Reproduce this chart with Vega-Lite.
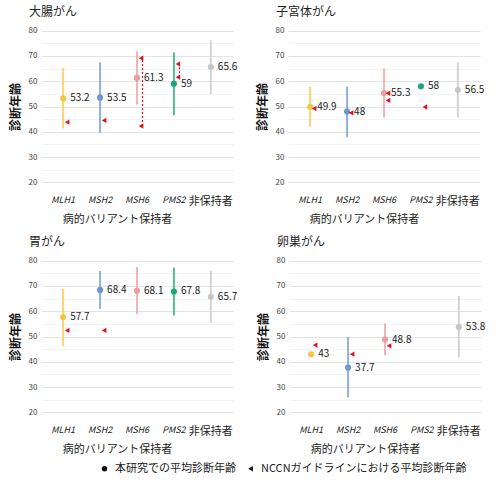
{
  "$schema": "https://vega.github.io/schema/vega-lite/v6.json",
  "background": "white",
  "padding": {"top": 6, "left": 9, "right": 2, "bottom": 2},
  "datasets": {
    "stats": [
      {"cancer": "大腸がん", "gene": "MLH1", "mean": 53.2, "lo": 41.3, "hi": 65.3},
      {"cancer": "大腸がん", "gene": "MSH2", "mean": 53.5, "lo": 39.5, "hi": 67.4},
      {"cancer": "大腸がん", "gene": "MSH6", "mean": 61.3, "lo": 50.8, "hi": 71.8},
      {"cancer": "大腸がん", "gene": "PMS2", "mean": 59, "lo": 46.6, "hi": 71.4},
      {"cancer": "大腸がん", "gene": "非保持者", "mean": 65.6, "lo": 55, "hi": 76.2},
      {"cancer": "子宮体がん", "gene": "MLH1", "mean": 49.9, "lo": 42, "hi": 57.8},
      {"cancer": "子宮体がん", "gene": "MSH2", "mean": 48, "lo": 37.9, "hi": 57.9},
      {"cancer": "子宮体がん", "gene": "MSH6", "mean": 55.3, "lo": 45.7, "hi": 65},
      {"cancer": "子宮体がん", "gene": "PMS2", "mean": 58, "lo": null, "hi": null},
      {"cancer": "子宮体がん", "gene": "非保持者", "mean": 56.5, "lo": 45.6, "hi": 67.5},
      {"cancer": "胃がん", "gene": "MLH1", "mean": 57.7, "lo": 46.1, "hi": 68.8},
      {"cancer": "胃がん", "gene": "MSH2", "mean": 68.4, "lo": 60.9, "hi": 75.9},
      {"cancer": "胃がん", "gene": "MSH6", "mean": 68.1, "lo": 58.8, "hi": 77.5},
      {"cancer": "胃がん", "gene": "PMS2", "mean": 67.8, "lo": 58.3, "hi": 77.2},
      {"cancer": "胃がん", "gene": "非保持者", "mean": 65.7, "lo": 55.4, "hi": 76.1},
      {"cancer": "卵巣がん", "gene": "MLH1", "mean": 43, "lo": null, "hi": null},
      {"cancer": "卵巣がん", "gene": "MSH2", "mean": 37.7, "lo": 25.9, "hi": 49.8},
      {"cancer": "卵巣がん", "gene": "MSH6", "mean": 48.8, "lo": 42.7, "hi": 55.1},
      {"cancer": "卵巣がん", "gene": "非保持者", "mean": 53.8, "lo": 41.7, "hi": 66.1}
    ],
    "nccn": [
      {"cancer": "大腸がん", "gene": "MLH1", "age": 43.8},
      {"cancer": "大腸がん", "gene": "MSH2", "age": 44.5},
      {"cancer": "大腸がん", "gene": "MSH6", "age": 42.3},
      {"cancer": "大腸がん", "gene": "MSH6", "age": 69.1},
      {"cancer": "大腸がん", "gene": "PMS2", "age": 61.6},
      {"cancer": "大腸がん", "gene": "PMS2", "age": 66.8},
      {"cancer": "子宮体がん", "gene": "MLH1", "age": 49.2},
      {"cancer": "子宮体がん", "gene": "MSH2", "age": 47.5},
      {"cancer": "子宮体がん", "gene": "MSH6", "age": 52.4},
      {"cancer": "子宮体がん", "gene": "MSH6", "age": 55.2},
      {"cancer": "子宮体がん", "gene": "PMS2", "age": 49.8},
      {"cancer": "胃がん", "gene": "MLH1", "age": 52.4},
      {"cancer": "胃がん", "gene": "MSH2", "age": 52.4},
      {"cancer": "卵巣がん", "gene": "MLH1", "age": 46.6},
      {"cancer": "卵巣がん", "gene": "MSH2", "age": 43},
      {"cancer": "卵巣がん", "gene": "MSH6", "age": 46.3}
    ],
    "nccnRange": [
      {"cancer": "大腸がん", "gene": "MSH6", "from": 42.3, "to": 69.1},
      {"cancer": "大腸がん", "gene": "PMS2", "from": 61.6, "to": 66.8}
    ]
  },
  "vconcat": [
    {
      "hconcat": [
        {
          "title": {"text": "大腸がん", "anchor": "start", "frame": "group", "dx": -12, "offset": 4},
          "width": 192,
          "height": 167,
          "encoding": {
            "x": {
              "field": "gene", "type": "nominal",
              "scale": {"domain": ["MLH1", "MSH2", "MSH6", "PMS2", "非保持者"], "paddingInner": 0, "paddingOuter": 0.1},
              "axis": {
                "title": "病的バリアント保持者", "titleX": 76, "titleY": 23, "titleAlign": "center", "titleBaseline": "top",
                "labelFontSize": {"condition": {"test": "datum.value === '非保持者'", "value": 11}, "value": 9},
                "labelFontStyle": {"condition": {"test": "datum.value === '非保持者'", "value": "normal"}, "value": "italic"}
              }
            }
          },
          "layer": [
            {
              "data": {"name": "stats"},
              "transform": [{"filter": "datum.cancer === '大腸がん'"}],
              "mark": {"type": "rule", "strokeWidth": 2, "opacity": 0.75},
              "encoding": {
                "y": {"field": "lo", "type": "quantitative", "scale": {"domain": [17, 83], "nice": false, "zero": false}, "title": "診断年齢"},
                "y2": {"field": "hi"},
                "color": {"field": "gene", "type": "nominal", "scale": {"domain": ["MLH1", "MSH2", "MSH6", "PMS2", "非保持者"], "range": ["#F5C645", "#6A97CF", "#EE9C9E", "#1AA775", "#C6C6C6"]}, "legend": null}
              }
            },
            {
              "data": {"name": "stats"},
              "transform": [{"filter": "datum.cancer === '大腸がん'"}],
              "mark": {"type": "point", "filled": true, "opacity": 1, "size": 38},
              "encoding": {
                "y": {"field": "mean", "type": "quantitative", "title": "診断年齢"},
                "color": {"field": "gene", "type": "nominal", "legend": null},
                "shape": {"datum": "本研究での平均診断年齢", "scale": {"domain": ["本研究での平均診断年齢", "NCCNガイドラインにおける平均診断年齢"], "range": ["circle", "triangle-left"]}}
              }
            },
            {
              "data": {"name": "stats"},
              "transform": [{"filter": "datum.cancer === '大腸がん'"}],
              "mark": {"type": "text", "align": "left", "baseline": "middle", "dx": 7, "fontSize": 10, "color": "#222"},
              "encoding": {
                "y": {"field": "mean", "type": "quantitative", "title": "診断年齢"},
                "text": {"field": "mean", "type": "quantitative"}
              }
            },
            {
              "data": {"name": "nccnRange"},
              "transform": [{"filter": "datum.cancer === '大腸がん'"}],
              "mark": {"type": "rule", "color": "#E3111B", "strokeWidth": 1.2, "strokeDash": [2, 2], "xOffset": 5.5},
              "encoding": {
                "y": {"field": "from", "type": "quantitative", "title": "診断年齢"},
                "y2": {"field": "to"}
              }
            },
            {
              "data": {"name": "nccn"},
              "transform": [{"filter": "datum.cancer === '大腸がん'"}],
              "mark": {"type": "point", "filled": true, "opacity": 1, "color": "#E3111B", "size": 28, "xOffset": 4},
              "encoding": {
                "y": {"field": "age", "type": "quantitative", "title": "診断年齢"},
                "shape": {"datum": "NCCNガイドラインにおける平均診断年齢"}
              }
            },
            {
              "mark": {"type": "rule", "color": "#444", "strokeWidth": 1.2},
              "encoding": {
                "x": {"datum": "MLH1", "bandPosition": 0},
                "x2": {"datum": "PMS2", "bandPosition": 0.9},
                "y": {"datum": 10.5, "title": "診断年齢"}
              }
            }
          ]
        },
        {
          "title": {"text": "子宮体がん", "anchor": "start", "frame": "group", "dx": -12, "offset": 4},
          "width": 192,
          "height": 167,
          "encoding": {
            "x": {
              "field": "gene", "type": "nominal",
              "scale": {"domain": ["MLH1", "MSH2", "MSH6", "PMS2", "非保持者"], "paddingInner": 0, "paddingOuter": 0.1},
              "axis": {
                "title": "病的バリアント保持者", "titleX": 76, "titleY": 23, "titleAlign": "center", "titleBaseline": "top",
                "labelFontSize": {"condition": {"test": "datum.value === '非保持者'", "value": 11}, "value": 9},
                "labelFontStyle": {"condition": {"test": "datum.value === '非保持者'", "value": "normal"}, "value": "italic"}
              }
            }
          },
          "layer": [
            {
              "data": {"name": "stats"},
              "transform": [{"filter": "datum.cancer === '子宮体がん'"}],
              "mark": {"type": "rule", "strokeWidth": 2, "opacity": 0.75},
              "encoding": {
                "y": {"field": "lo", "type": "quantitative", "scale": {"domain": [17, 83], "nice": false, "zero": false}, "title": "診断年齢"},
                "y2": {"field": "hi"},
                "color": {"field": "gene", "type": "nominal", "legend": null}
              }
            },
            {
              "data": {"name": "stats"},
              "transform": [{"filter": "datum.cancer === '子宮体がん'"}],
              "mark": {"type": "point", "filled": true, "opacity": 1, "size": 38},
              "encoding": {
                "y": {"field": "mean", "type": "quantitative", "title": "診断年齢"},
                "color": {"field": "gene", "type": "nominal", "legend": null},
                "shape": {"datum": "本研究での平均診断年齢"}
              }
            },
            {
              "data": {"name": "stats"},
              "transform": [{"filter": "datum.cancer === '子宮体がん'"}],
              "mark": {"type": "text", "align": "left", "baseline": "middle", "dx": 7, "fontSize": 10, "color": "#222"},
              "encoding": {
                "y": {"field": "mean", "type": "quantitative", "title": "診断年齢"},
                "text": {"field": "mean", "type": "quantitative"}
              }
            },
            {
              "data": {"name": "nccn"},
              "transform": [{"filter": "datum.cancer === '子宮体がん'"}],
              "mark": {"type": "point", "filled": true, "opacity": 1, "color": "#E3111B", "size": 28, "xOffset": 4},
              "encoding": {
                "y": {"field": "age", "type": "quantitative", "title": "診断年齢"},
                "shape": {"datum": "NCCNガイドラインにおける平均診断年齢"}
              }
            },
            {
              "mark": {"type": "rule", "color": "#444", "strokeWidth": 1.2},
              "encoding": {
                "x": {"datum": "MLH1", "bandPosition": 0},
                "x2": {"datum": "PMS2", "bandPosition": 0.9},
                "y": {"datum": 10.5, "title": "診断年齢"}
              }
            }
          ]
        }
      ],
      "spacing": 18
    },
    {
      "hconcat": [
        {
          "title": {"text": "胃がん", "anchor": "start", "frame": "group", "dx": -12, "offset": 4},
          "width": 192,
          "height": 167,
          "encoding": {
            "x": {
              "field": "gene", "type": "nominal",
              "scale": {"domain": ["MLH1", "MSH2", "MSH6", "PMS2", "非保持者"], "paddingInner": 0, "paddingOuter": 0.1},
              "axis": {
                "title": "病的バリアント保持者", "titleX": 76, "titleY": 23, "titleAlign": "center", "titleBaseline": "top",
                "labelFontSize": {"condition": {"test": "datum.value === '非保持者'", "value": 11}, "value": 9},
                "labelFontStyle": {"condition": {"test": "datum.value === '非保持者'", "value": "normal"}, "value": "italic"}
              }
            }
          },
          "layer": [
            {
              "data": {"name": "stats"},
              "transform": [{"filter": "datum.cancer === '胃がん'"}],
              "mark": {"type": "rule", "strokeWidth": 2, "opacity": 0.75},
              "encoding": {
                "y": {"field": "lo", "type": "quantitative", "scale": {"domain": [17, 83], "nice": false, "zero": false}, "title": "診断年齢"},
                "y2": {"field": "hi"},
                "color": {"field": "gene", "type": "nominal", "legend": null}
              }
            },
            {
              "data": {"name": "stats"},
              "transform": [{"filter": "datum.cancer === '胃がん'"}],
              "mark": {"type": "point", "filled": true, "opacity": 1, "size": 38},
              "encoding": {
                "y": {"field": "mean", "type": "quantitative", "title": "診断年齢"},
                "color": {"field": "gene", "type": "nominal", "legend": null},
                "shape": {"datum": "本研究での平均診断年齢"}
              }
            },
            {
              "data": {"name": "stats"},
              "transform": [{"filter": "datum.cancer === '胃がん'"}],
              "mark": {"type": "text", "align": "left", "baseline": "middle", "dx": 7, "fontSize": 10, "color": "#222"},
              "encoding": {
                "y": {"field": "mean", "type": "quantitative", "title": "診断年齢"},
                "text": {"field": "mean", "type": "quantitative"}
              }
            },
            {
              "data": {"name": "nccn"},
              "transform": [{"filter": "datum.cancer === '胃がん'"}],
              "mark": {"type": "point", "filled": true, "opacity": 1, "color": "#E3111B", "size": 28, "xOffset": 4},
              "encoding": {
                "y": {"field": "age", "type": "quantitative", "title": "診断年齢"},
                "shape": {"datum": "NCCNガイドラインにおける平均診断年齢"}
              }
            },
            {
              "mark": {"type": "rule", "color": "#444", "strokeWidth": 1.2},
              "encoding": {
                "x": {"datum": "MLH1", "bandPosition": 0},
                "x2": {"datum": "PMS2", "bandPosition": 0.9},
                "y": {"datum": 10.5, "title": "診断年齢"}
              }
            }
          ]
        },
        {
          "title": {"text": "卵巣がん", "anchor": "start", "frame": "group", "dx": -12, "offset": 4},
          "width": 192,
          "height": 167,
          "encoding": {
            "x": {
              "field": "gene", "type": "nominal",
              "scale": {"domain": ["MLH1", "MSH2", "MSH6", "PMS2", "非保持者"], "paddingInner": 0, "paddingOuter": 0.1},
              "axis": {
                "title": "病的バリアント保持者", "titleX": 76, "titleY": 23, "titleAlign": "center", "titleBaseline": "top",
                "labelFontSize": {"condition": {"test": "datum.value === '非保持者'", "value": 11}, "value": 9},
                "labelFontStyle": {"condition": {"test": "datum.value === '非保持者'", "value": "normal"}, "value": "italic"}
              }
            }
          },
          "layer": [
            {
              "data": {"name": "stats"},
              "transform": [{"filter": "datum.cancer === '卵巣がん'"}],
              "mark": {"type": "rule", "strokeWidth": 2, "opacity": 0.75},
              "encoding": {
                "y": {"field": "lo", "type": "quantitative", "scale": {"domain": [17, 83], "nice": false, "zero": false}, "title": "診断年齢"},
                "y2": {"field": "hi"},
                "color": {"field": "gene", "type": "nominal", "legend": null}
              }
            },
            {
              "data": {"name": "stats"},
              "transform": [{"filter": "datum.cancer === '卵巣がん'"}],
              "mark": {"type": "point", "filled": true, "opacity": 1, "size": 38},
              "encoding": {
                "y": {"field": "mean", "type": "quantitative", "title": "診断年齢"},
                "color": {"field": "gene", "type": "nominal", "legend": null},
                "shape": {"datum": "本研究での平均診断年齢"}
              }
            },
            {
              "data": {"name": "stats"},
              "transform": [{"filter": "datum.cancer === '卵巣がん'"}],
              "mark": {"type": "text", "align": "left", "baseline": "middle", "dx": 7, "fontSize": 10, "color": "#222"},
              "encoding": {
                "y": {"field": "mean", "type": "quantitative", "title": "診断年齢"},
                "text": {"field": "mean", "type": "quantitative"}
              }
            },
            {
              "data": {"name": "nccn"},
              "transform": [{"filter": "datum.cancer === '卵巣がん'"}],
              "mark": {"type": "point", "filled": true, "opacity": 1, "color": "#E3111B", "size": 28, "xOffset": 4},
              "encoding": {
                "y": {"field": "age", "type": "quantitative", "title": "診断年齢"},
                "shape": {"datum": "NCCNガイドラインにおける平均診断年齢"}
              }
            },
            {
              "mark": {"type": "rule", "color": "#444", "strokeWidth": 1.2},
              "encoding": {
                "x": {"datum": "MLH1", "bandPosition": 0},
                "x2": {"datum": "PMS2", "bandPosition": 0.9},
                "y": {"datum": 10.5, "title": "診断年齢"}
              }
            }
          ]
        }
      ],
      "spacing": 19
    }
  ],
  "spacing": 12,
  "resolve": {"scale": {"shape": "shared", "color": "shared"}, "legend": {"shape": "shared"}},
  "config": {
    "font": "Noto Sans CJK JP",
    "view": {"stroke": null},
    "title": {"fontSize": 12, "fontWeight": "normal", "color": "#222"},
    "axis": {"domain": false, "ticks": false, "gridColor": "#EBEBEB", "gridWidth": 1},
    "axisX": {"labelAngle": 0, "labelPadding": 5, "labelColor": "#222", "titleFontSize": 11, "titleFontWeight": "normal", "titleColor": "#222"},
    "axisY": {
      "tickCount": 13,
      "labelOverlap": false,
      "labelExpr": "datum.value % 10 === 0 ? datum.label : ''",
      "gridColor": {"condition": {"test": "datum.value % 10 === 0", "value": "#E4E4E4"}, "value": "#F3F3F3"},
      "labelPadding": 4,
      "labelFontSize": 8,
      "labelColor": "#444",
      "titleFontSize": 12,
      "titleFontWeight": "bold",
      "titleColor": "#111",
      "titlePadding": 6
    },
    "legend": {
      "orient": "none",
      "direction": "horizontal",
      "legendX": 58,
      "legendY": 440,
      "title": null,
      "labelFontSize": 11,
      "labelColor": "#222",
      "labelLimit": 400,
      "symbolSize": 30,
      "columnPadding": 9,
      "labelOffset": 5,
      "padding": 0,
      "symbolStrokeWidth": 0,
      "symbolFillColor": "#111",
      "encode": {
        "symbols": {
          "update": {
            "fill": {"signal": "datum.value === '本研究での平均診断年齢' ? '#111111' : '#E3111B'"}
          }
        }
      }
    }
  }
}
